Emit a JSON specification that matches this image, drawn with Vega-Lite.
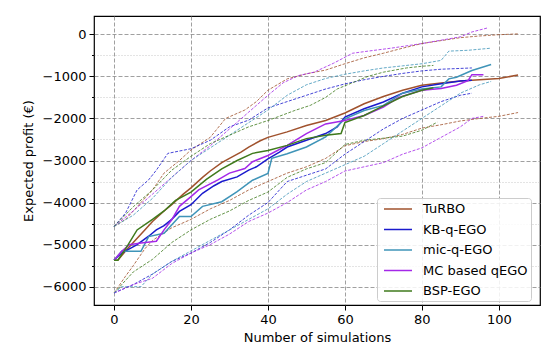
{
"$schema": "https://vega.github.io/schema/vega-lite/v6.json",
"width": 446, "height": 289,
"autosize": {"type": "none"},
"padding": {"left": 94, "top": 16, "right": 10, "bottom": 52},
"background": "white",
"config": {"view": {"stroke": "#000", "strokeWidth": 1.2}, "font": "DejaVu Sans"},
"datasets": {"d": [
{"s":"TuRBO","k":"m","x":0,"y":-5370},{"s":"TuRBO","k":"m","x":1,"y":-5370},{"s":"TuRBO","k":"m","x":3,"y":-5150},{"s":"TuRBO","k":"m","x":5,"y":-4950},{"s":"TuRBO","k":"m","x":8,"y":-4650},{"s":"TuRBO","k":"m","x":10,"y":-4450},{"s":"TuRBO","k":"m","x":13,"y":-4200},{"s":"TuRBO","k":"m","x":15,"y":-4050},{"s":"TuRBO","k":"m","x":18,"y":-3800},{"s":"TuRBO","k":"m","x":20,"y":-3650},{"s":"TuRBO","k":"m","x":23,"y":-3400},{"s":"TuRBO","k":"m","x":25,"y":-3250},{"s":"TuRBO","k":"m","x":28,"y":-3050},{"s":"TuRBO","k":"m","x":30,"y":-2950},{"s":"TuRBO","k":"m","x":33,"y":-2800},{"s":"TuRBO","k":"m","x":35,"y":-2680},{"s":"TuRBO","k":"m","x":38,"y":-2530},{"s":"TuRBO","k":"m","x":40,"y":-2450},{"s":"TuRBO","k":"m","x":45,"y":-2320},{"s":"TuRBO","k":"m","x":50,"y":-2170},{"s":"TuRBO","k":"m","x":55,"y":-2050},{"s":"TuRBO","k":"m","x":60,"y":-1870},{"s":"TuRBO","k":"m","x":65,"y":-1650},{"s":"TuRBO","k":"m","x":70,"y":-1480},{"s":"TuRBO","k":"m","x":75,"y":-1330},{"s":"TuRBO","k":"m","x":80,"y":-1210},{"s":"TuRBO","k":"m","x":85,"y":-1160},{"s":"TuRBO","k":"m","x":90,"y":-1110},{"s":"TuRBO","k":"m","x":95,"y":-1080},{"s":"TuRBO","k":"m","x":100,"y":-1050},{"s":"TuRBO","k":"m","x":105,"y":-970},
{"s":"KB-q-EGO","k":"m","x":0,"y":-5370},{"s":"KB-q-EGO","k":"m","x":2,"y":-5200},{"s":"KB-q-EGO","k":"m","x":4,"y":-5100},{"s":"KB-q-EGO","k":"m","x":6,"y":-5000},{"s":"KB-q-EGO","k":"m","x":9,"y":-4800},{"s":"KB-q-EGO","k":"m","x":11,"y":-4650},{"s":"KB-q-EGO","k":"m","x":13,"y":-4550},{"s":"KB-q-EGO","k":"m","x":15,"y":-4400},{"s":"KB-q-EGO","k":"m","x":17,"y":-4210},{"s":"KB-q-EGO","k":"m","x":20,"y":-4050},{"s":"KB-q-EGO","k":"m","x":23,"y":-3780},{"s":"KB-q-EGO","k":"m","x":26,"y":-3600},{"s":"KB-q-EGO","k":"m","x":28,"y":-3500},{"s":"KB-q-EGO","k":"m","x":32,"y":-3390},{"s":"KB-q-EGO","k":"m","x":35,"y":-3230},{"s":"KB-q-EGO","k":"m","x":37,"y":-3150},{"s":"KB-q-EGO","k":"m","x":40,"y":-2960},{"s":"KB-q-EGO","k":"m","x":43,"y":-2800},{"s":"KB-q-EGO","k":"m","x":45,"y":-2680},{"s":"KB-q-EGO","k":"m","x":50,"y":-2520},{"s":"KB-q-EGO","k":"m","x":55,"y":-2360},{"s":"KB-q-EGO","k":"m","x":58,"y":-2200},{"s":"KB-q-EGO","k":"m","x":60,"y":-1970},{"s":"KB-q-EGO","k":"m","x":65,"y":-1770},{"s":"KB-q-EGO","k":"m","x":70,"y":-1610},{"s":"KB-q-EGO","k":"m","x":75,"y":-1400},{"s":"KB-q-EGO","k":"m","x":80,"y":-1250},{"s":"KB-q-EGO","k":"m","x":85,"y":-1175},{"s":"KB-q-EGO","k":"m","x":90,"y":-1110},{"s":"KB-q-EGO","k":"m","x":93,"y":-1090},
{"s":"mic-q-EGO","k":"m","x":0,"y":-5370},{"s":"mic-q-EGO","k":"m","x":2,"y":-5160},{"s":"mic-q-EGO","k":"m","x":7,"y":-5160},{"s":"mic-q-EGO","k":"m","x":9,"y":-4810},{"s":"mic-q-EGO","k":"m","x":13,"y":-4730},{"s":"mic-q-EGO","k":"m","x":17,"y":-4330},{"s":"mic-q-EGO","k":"m","x":20,"y":-4330},{"s":"mic-q-EGO","k":"m","x":23,"y":-4090},{"s":"mic-q-EGO","k":"m","x":28,"y":-3980},{"s":"mic-q-EGO","k":"m","x":32,"y":-3740},{"s":"mic-q-EGO","k":"m","x":36,"y":-3470},{"s":"mic-q-EGO","k":"m","x":40,"y":-3310},{"s":"mic-q-EGO","k":"m","x":41,"y":-2950},{"s":"mic-q-EGO","k":"m","x":45,"y":-2840},{"s":"mic-q-EGO","k":"m","x":50,"y":-2680},{"s":"mic-q-EGO","k":"m","x":55,"y":-2440},{"s":"mic-q-EGO","k":"m","x":60,"y":-2010},{"s":"mic-q-EGO","k":"m","x":65,"y":-1810},{"s":"mic-q-EGO","k":"m","x":70,"y":-1690},{"s":"mic-q-EGO","k":"m","x":75,"y":-1400},{"s":"mic-q-EGO","k":"m","x":80,"y":-1300},{"s":"mic-q-EGO","k":"m","x":85,"y":-1250},{"s":"mic-q-EGO","k":"m","x":87,"y":-1060},{"s":"mic-q-EGO","k":"m","x":89,"y":-1020},{"s":"mic-q-EGO","k":"m","x":93,"y":-860},{"s":"mic-q-EGO","k":"m","x":98,"y":-720},
{"s":"MC based qEGO","k":"m","x":0,"y":-5370},{"s":"MC based qEGO","k":"m","x":2,"y":-5160},{"s":"MC based qEGO","k":"m","x":4,"y":-5000},{"s":"MC based qEGO","k":"m","x":7,"y":-4960},{"s":"MC based qEGO","k":"m","x":11,"y":-4920},{"s":"MC based qEGO","k":"m","x":13,"y":-4650},{"s":"MC based qEGO","k":"m","x":15,"y":-4410},{"s":"MC based qEGO","k":"m","x":17,"y":-4090},{"s":"MC based qEGO","k":"m","x":20,"y":-3860},{"s":"MC based qEGO","k":"m","x":22,"y":-3700},{"s":"MC based qEGO","k":"m","x":27,"y":-3460},{"s":"MC based qEGO","k":"m","x":30,"y":-3300},{"s":"MC based qEGO","k":"m","x":34,"y":-3190},{"s":"MC based qEGO","k":"m","x":36,"y":-3030},{"s":"MC based qEGO","k":"m","x":40,"y":-2880},{"s":"MC based qEGO","k":"m","x":45,"y":-2640},{"s":"MC based qEGO","k":"m","x":50,"y":-2360},{"s":"MC based qEGO","k":"m","x":55,"y":-2130},{"s":"MC based qEGO","k":"m","x":60,"y":-2050},{"s":"MC based qEGO","k":"m","x":65,"y":-1930},{"s":"MC based qEGO","k":"m","x":70,"y":-1730},{"s":"MC based qEGO","k":"m","x":74,"y":-1500},{"s":"MC based qEGO","k":"m","x":80,"y":-1330},{"s":"MC based qEGO","k":"m","x":85,"y":-1290},{"s":"MC based qEGO","k":"m","x":89,"y":-1210},{"s":"MC based qEGO","k":"m","x":92,"y":-1100},{"s":"MC based qEGO","k":"m","x":93,"y":-960},{"s":"MC based qEGO","k":"m","x":96,"y":-960},
{"s":"BSP-EGO","k":"m","x":0,"y":-5370},{"s":"BSP-EGO","k":"m","x":1,"y":-5370},{"s":"BSP-EGO","k":"m","x":3,"y":-5100},{"s":"BSP-EGO","k":"m","x":6,"y":-4650},{"s":"BSP-EGO","k":"m","x":10,"y":-4400},{"s":"BSP-EGO","k":"m","x":13,"y":-4200},{"s":"BSP-EGO","k":"m","x":16,"y":-3950},{"s":"BSP-EGO","k":"m","x":20,"y":-3750},{"s":"BSP-EGO","k":"m","x":24,"y":-3450},{"s":"BSP-EGO","k":"m","x":28,"y":-3200},{"s":"BSP-EGO","k":"m","x":32,"y":-3000},{"s":"BSP-EGO","k":"m","x":36,"y":-2830},{"s":"BSP-EGO","k":"m","x":40,"y":-2760},{"s":"BSP-EGO","k":"m","x":45,"y":-2640},{"s":"BSP-EGO","k":"m","x":50,"y":-2480},{"s":"BSP-EGO","k":"m","x":55,"y":-2400},{"s":"BSP-EGO","k":"m","x":59,"y":-2360},{"s":"BSP-EGO","k":"m","x":60,"y":-2100},{"s":"BSP-EGO","k":"m","x":65,"y":-1930},{"s":"BSP-EGO","k":"m","x":70,"y":-1700},{"s":"BSP-EGO","k":"m","x":75,"y":-1480},{"s":"BSP-EGO","k":"m","x":80,"y":-1330},{"s":"BSP-EGO","k":"m","x":83,"y":-1270},
{"s":"TuRBO","k":"u","x":0,"y":-4570},{"s":"TuRBO","k":"u","x":3,"y":-4400},{"s":"TuRBO","k":"u","x":6,"y":-4100},{"s":"TuRBO","k":"u","x":10,"y":-3700},{"s":"TuRBO","k":"u","x":13,"y":-3300},{"s":"TuRBO","k":"u","x":17,"y":-3000},{"s":"TuRBO","k":"u","x":20,"y":-2750},{"s":"TuRBO","k":"u","x":25,"y":-2450},{"s":"TuRBO","k":"u","x":29,"y":-2000},{"s":"TuRBO","k":"u","x":34,"y":-1800},{"s":"TuRBO","k":"u","x":37,"y":-1600},{"s":"TuRBO","k":"u","x":40,"y":-1330},{"s":"TuRBO","k":"u","x":45,"y":-1060},{"s":"TuRBO","k":"u","x":50,"y":-940},{"s":"TuRBO","k":"u","x":55,"y":-850},{"s":"TuRBO","k":"u","x":60,"y":-700},{"s":"TuRBO","k":"u","x":65,"y":-560},{"s":"TuRBO","k":"u","x":70,"y":-450},{"s":"TuRBO","k":"u","x":75,"y":-330},{"s":"TuRBO","k":"u","x":80,"y":-220},{"s":"TuRBO","k":"u","x":85,"y":-150},{"s":"TuRBO","k":"u","x":90,"y":-80},{"s":"TuRBO","k":"u","x":95,"y":-40},{"s":"TuRBO","k":"u","x":100,"y":-10},{"s":"TuRBO","k":"u","x":105,"y":10},
{"s":"KB-q-EGO","k":"u","x":0,"y":-4570},{"s":"KB-q-EGO","k":"u","x":3,"y":-4250},{"s":"KB-q-EGO","k":"u","x":6,"y":-3700},{"s":"KB-q-EGO","k":"u","x":9,"y":-3460},{"s":"KB-q-EGO","k":"u","x":11,"y":-3230},{"s":"KB-q-EGO","k":"u","x":14,"y":-2830},{"s":"KB-q-EGO","k":"u","x":20,"y":-2720},{"s":"KB-q-EGO","k":"u","x":25,"y":-2520},{"s":"KB-q-EGO","k":"u","x":30,"y":-2200},{"s":"KB-q-EGO","k":"u","x":35,"y":-2040},{"s":"KB-q-EGO","k":"u","x":40,"y":-1750},{"s":"KB-q-EGO","k":"u","x":45,"y":-1600},{"s":"KB-q-EGO","k":"u","x":50,"y":-1450},{"s":"KB-q-EGO","k":"u","x":55,"y":-1300},{"s":"KB-q-EGO","k":"u","x":60,"y":-1180},{"s":"KB-q-EGO","k":"u","x":65,"y":-1080},{"s":"KB-q-EGO","k":"u","x":70,"y":-1000},{"s":"KB-q-EGO","k":"u","x":75,"y":-930},{"s":"KB-q-EGO","k":"u","x":80,"y":-870},{"s":"KB-q-EGO","k":"u","x":85,"y":-830},{"s":"KB-q-EGO","k":"u","x":93,"y":-800},
{"s":"MC based qEGO","k":"u","x":0,"y":-4570},{"s":"MC based qEGO","k":"u","x":5,"y":-4200},{"s":"MC based qEGO","k":"u","x":10,"y":-3800},{"s":"MC based qEGO","k":"u","x":15,"y":-3400},{"s":"MC based qEGO","k":"u","x":20,"y":-3000},{"s":"MC based qEGO","k":"u","x":25,"y":-2650},{"s":"MC based qEGO","k":"u","x":30,"y":-2250},{"s":"MC based qEGO","k":"u","x":35,"y":-1850},{"s":"MC based qEGO","k":"u","x":40,"y":-1450},{"s":"MC based qEGO","k":"u","x":44,"y":-1150},{"s":"MC based qEGO","k":"u","x":48,"y":-980},{"s":"MC based qEGO","k":"u","x":52,"y":-900},{"s":"MC based qEGO","k":"u","x":57,"y":-690},{"s":"MC based qEGO","k":"u","x":62,"y":-450},{"s":"MC based qEGO","k":"u","x":66,"y":-400},{"s":"MC based qEGO","k":"u","x":72,"y":-330},{"s":"MC based qEGO","k":"u","x":80,"y":-220},{"s":"MC based qEGO","k":"u","x":85,"y":-140},{"s":"MC based qEGO","k":"u","x":90,"y":-60},{"s":"MC based qEGO","k":"u","x":93,"y":55},{"s":"MC based qEGO","k":"u","x":97,"y":150},
{"s":"mic-q-EGO","k":"u","x":0,"y":-4570},{"s":"mic-q-EGO","k":"u","x":5,"y":-4300},{"s":"mic-q-EGO","k":"u","x":10,"y":-3900},{"s":"mic-q-EGO","k":"u","x":15,"y":-3400},{"s":"mic-q-EGO","k":"u","x":20,"y":-3000},{"s":"mic-q-EGO","k":"u","x":25,"y":-2700},{"s":"mic-q-EGO","k":"u","x":30,"y":-2400},{"s":"mic-q-EGO","k":"u","x":35,"y":-2100},{"s":"mic-q-EGO","k":"u","x":40,"y":-1800},{"s":"mic-q-EGO","k":"u","x":45,"y":-1450},{"s":"mic-q-EGO","k":"u","x":50,"y":-1200},{"s":"mic-q-EGO","k":"u","x":55,"y":-1050},{"s":"mic-q-EGO","k":"u","x":60,"y":-950},{"s":"mic-q-EGO","k":"u","x":65,"y":-870},{"s":"mic-q-EGO","k":"u","x":70,"y":-800},{"s":"mic-q-EGO","k":"u","x":75,"y":-750},{"s":"mic-q-EGO","k":"u","x":80,"y":-700},{"s":"mic-q-EGO","k":"u","x":85,"y":-620},{"s":"mic-q-EGO","k":"u","x":87,"y":-400},{"s":"mic-q-EGO","k":"u","x":92,"y":-380},{"s":"mic-q-EGO","k":"u","x":98,"y":-330},
{"s":"BSP-EGO","k":"u","x":0,"y":-4570},{"s":"BSP-EGO","k":"u","x":5,"y":-4100},{"s":"BSP-EGO","k":"u","x":10,"y":-3700},{"s":"BSP-EGO","k":"u","x":15,"y":-3230},{"s":"BSP-EGO","k":"u","x":20,"y":-2900},{"s":"BSP-EGO","k":"u","x":25,"y":-2600},{"s":"BSP-EGO","k":"u","x":30,"y":-2400},{"s":"BSP-EGO","k":"u","x":35,"y":-2200},{"s":"BSP-EGO","k":"u","x":40,"y":-2050},{"s":"BSP-EGO","k":"u","x":47,"y":-1810},{"s":"BSP-EGO","k":"u","x":51,"y":-1690},{"s":"BSP-EGO","k":"u","x":55,"y":-1500},{"s":"BSP-EGO","k":"u","x":58,"y":-1300},{"s":"BSP-EGO","k":"u","x":62,"y":-1150},{"s":"BSP-EGO","k":"u","x":66,"y":-1000},{"s":"BSP-EGO","k":"u","x":70,"y":-900},{"s":"BSP-EGO","k":"u","x":76,"y":-800},{"s":"BSP-EGO","k":"u","x":80,"y":-760},{"s":"BSP-EGO","k":"u","x":83,"y":-740},
{"s":"TuRBO","k":"l","x":0,"y":-6150},{"s":"TuRBO","k":"l","x":3,"y":-5750},{"s":"TuRBO","k":"l","x":5,"y":-5500},{"s":"TuRBO","k":"l","x":8,"y":-5100},{"s":"TuRBO","k":"l","x":10,"y":-4900},{"s":"TuRBO","k":"l","x":15,"y":-4600},{"s":"TuRBO","k":"l","x":20,"y":-4400},{"s":"TuRBO","k":"l","x":25,"y":-4150},{"s":"TuRBO","k":"l","x":30,"y":-3950},{"s":"TuRBO","k":"l","x":35,"y":-3700},{"s":"TuRBO","k":"l","x":40,"y":-3500},{"s":"TuRBO","k":"l","x":45,"y":-3300},{"s":"TuRBO","k":"l","x":50,"y":-3150},{"s":"TuRBO","k":"l","x":55,"y":-2950},{"s":"TuRBO","k":"l","x":60,"y":-2650},{"s":"TuRBO","k":"l","x":65,"y":-2550},{"s":"TuRBO","k":"l","x":70,"y":-2480},{"s":"TuRBO","k":"l","x":75,"y":-2380},{"s":"TuRBO","k":"l","x":80,"y":-2230},{"s":"TuRBO","k":"l","x":85,"y":-2150},{"s":"TuRBO","k":"l","x":90,"y":-2060},{"s":"TuRBO","k":"l","x":95,"y":-2000},{"s":"TuRBO","k":"l","x":100,"y":-1950},{"s":"TuRBO","k":"l","x":105,"y":-1860},
{"s":"BSP-EGO","k":"l","x":0,"y":-6150},{"s":"BSP-EGO","k":"l","x":3,"y":-5850},{"s":"BSP-EGO","k":"l","x":5,"y":-5650},{"s":"BSP-EGO","k":"l","x":10,"y":-5350},{"s":"BSP-EGO","k":"l","x":15,"y":-4950},{"s":"BSP-EGO","k":"l","x":20,"y":-4650},{"s":"BSP-EGO","k":"l","x":25,"y":-4400},{"s":"BSP-EGO","k":"l","x":30,"y":-4200},{"s":"BSP-EGO","k":"l","x":35,"y":-3950},{"s":"BSP-EGO","k":"l","x":40,"y":-3750},{"s":"BSP-EGO","k":"l","x":45,"y":-3400},{"s":"BSP-EGO","k":"l","x":50,"y":-3200},{"s":"BSP-EGO","k":"l","x":55,"y":-3050},{"s":"BSP-EGO","k":"l","x":60,"y":-2620},{"s":"BSP-EGO","k":"l","x":65,"y":-2520},{"s":"BSP-EGO","k":"l","x":70,"y":-2470},{"s":"BSP-EGO","k":"l","x":75,"y":-2420},{"s":"BSP-EGO","k":"l","x":80,"y":-2280},{"s":"BSP-EGO","k":"l","x":84,"y":-2090},
{"s":"KB-q-EGO","k":"l","x":0,"y":-6150},{"s":"KB-q-EGO","k":"l","x":5,"y":-5950},{"s":"KB-q-EGO","k":"l","x":10,"y":-5700},{"s":"KB-q-EGO","k":"l","x":15,"y":-5400},{"s":"KB-q-EGO","k":"l","x":20,"y":-5200},{"s":"KB-q-EGO","k":"l","x":25,"y":-4950},{"s":"KB-q-EGO","k":"l","x":30,"y":-4650},{"s":"KB-q-EGO","k":"l","x":35,"y":-4300},{"s":"KB-q-EGO","k":"l","x":40,"y":-4000},{"s":"KB-q-EGO","k":"l","x":45,"y":-3500},{"s":"KB-q-EGO","k":"l","x":50,"y":-3350},{"s":"KB-q-EGO","k":"l","x":55,"y":-3200},{"s":"KB-q-EGO","k":"l","x":60,"y":-2850},{"s":"KB-q-EGO","k":"l","x":65,"y":-2550},{"s":"KB-q-EGO","k":"l","x":70,"y":-2250},{"s":"KB-q-EGO","k":"l","x":75,"y":-2000},{"s":"KB-q-EGO","k":"l","x":80,"y":-1800},{"s":"KB-q-EGO","k":"l","x":85,"y":-1600},{"s":"KB-q-EGO","k":"l","x":90,"y":-1450},{"s":"KB-q-EGO","k":"l","x":93,"y":-1400},
{"s":"MC based qEGO","k":"l","x":0,"y":-6150},{"s":"MC based qEGO","k":"l","x":5,"y":-5950},{"s":"MC based qEGO","k":"l","x":10,"y":-5800},{"s":"MC based qEGO","k":"l","x":15,"y":-5450},{"s":"MC based qEGO","k":"l","x":20,"y":-5200},{"s":"MC based qEGO","k":"l","x":25,"y":-5000},{"s":"MC based qEGO","k":"l","x":30,"y":-4750},{"s":"MC based qEGO","k":"l","x":35,"y":-4450},{"s":"MC based qEGO","k":"l","x":40,"y":-4250},{"s":"MC based qEGO","k":"l","x":45,"y":-4000},{"s":"MC based qEGO","k":"l","x":50,"y":-3700},{"s":"MC based qEGO","k":"l","x":55,"y":-3500},{"s":"MC based qEGO","k":"l","x":60,"y":-3250},{"s":"MC based qEGO","k":"l","x":65,"y":-3150},{"s":"MC based qEGO","k":"l","x":70,"y":-3050},{"s":"MC based qEGO","k":"l","x":75,"y":-2850},{"s":"MC based qEGO","k":"l","x":80,"y":-2700},{"s":"MC based qEGO","k":"l","x":85,"y":-2450},{"s":"MC based qEGO","k":"l","x":90,"y":-2200},{"s":"MC based qEGO","k":"l","x":93,"y":-2000},{"s":"MC based qEGO","k":"l","x":96,"y":-1950},
{"s":"mic-q-EGO","k":"l","x":0,"y":-6150},{"s":"mic-q-EGO","k":"l","x":2,"y":-6000},{"s":"mic-q-EGO","k":"l","x":7,"y":-6000},{"s":"mic-q-EGO","k":"l","x":10,"y":-5700},{"s":"mic-q-EGO","k":"l","x":15,"y":-5400},{"s":"mic-q-EGO","k":"l","x":20,"y":-5150},{"s":"mic-q-EGO","k":"l","x":25,"y":-4900},{"s":"mic-q-EGO","k":"l","x":30,"y":-4650},{"s":"mic-q-EGO","k":"l","x":35,"y":-4400},{"s":"mic-q-EGO","k":"l","x":40,"y":-4150},{"s":"mic-q-EGO","k":"l","x":45,"y":-3800},{"s":"mic-q-EGO","k":"l","x":50,"y":-3500},{"s":"mic-q-EGO","k":"l","x":55,"y":-3300},{"s":"mic-q-EGO","k":"l","x":60,"y":-3100},{"s":"mic-q-EGO","k":"l","x":65,"y":-2900},{"s":"mic-q-EGO","k":"l","x":70,"y":-2600},{"s":"mic-q-EGO","k":"l","x":75,"y":-2300},{"s":"mic-q-EGO","k":"l","x":80,"y":-2000},{"s":"mic-q-EGO","k":"l","x":85,"y":-1700},{"s":"mic-q-EGO","k":"l","x":90,"y":-1400},{"s":"mic-q-EGO","k":"l","x":95,"y":-1200},{"s":"mic-q-EGO","k":"l","x":98,"y":-1120}
]},
"data": {"name": "d"},
"encoding": {
  "x": {"field": "x", "type": "quantitative", "scale": {"domain": [-5.2, 110.7], "nice": false, "zero": false},
    "axis": {"values": [0, 20, 40, 60, 80, 100], "format": "d", "title": "Number of simulations",
      "grid": true, "gridDash": [4, 2], "gridColor": "#888", "gridWidth": 0.8,
      "domain": false, "tickSize": 5, "tickColor": "#000", "tickWidth": 1,
      "labelFontSize": 13, "labelColor": "#000", "labelPadding": 3,
      "titleFontSize": 13, "titleFontWeight": "normal", "titleColor": "#000", "titlePadding": 5}},
  "y": {"field": "y", "type": "quantitative", "scale": {"domain": [-6435, 435], "nice": false, "zero": false},
    "axis": {"values": [-6000, -5500, -5000, -4500, -4000, -3500, -3000, -2500, -2000, -1500, -1000, -500, 0],
      "format": "d", "labelExpr": "datum.value % 1000 === 0 ? datum.label : ''", "title": "Expected profit (€)",
      "grid": true,
      "gridDash": {"condition": {"test": "datum.value % 1000 === 0", "value": [4, 2]}, "value": [1, 2]},
      "gridColor": {"condition": {"test": "datum.value % 1000 === 0", "value": "#888"}, "value": "#bbb"},
      "gridWidth": 0.8,
      "domain": false,
      "tickSize": {"condition": {"test": "datum.value % 1000 === 0", "value": 5}, "value": 2.5},
      "tickColor": "#000", "tickWidth": 1,
      "labelFontSize": 13, "labelColor": "#000", "labelPadding": 3,
      "titleFontSize": 13, "titleFontWeight": "normal", "titleColor": "#000", "titlePadding": 7}}
},
"resolve": {"legend": {"color": "independent"}},
"layer": [
  {"transform": [{"filter": "datum.k !== 'm'"}],
   "mark": {"type": "line", "strokeDash": [3, 1.5], "strokeWidth": 0.9, "opacity": 0.9},
   "encoding": {"detail": {"field": "k"},
     "color": {"field": "s", "type": "nominal", "legend": null,
       "scale": {"domain": ["TuRBO", "KB-q-EGO", "mic-q-EGO", "MC based qEGO", "BSP-EGO"], "range": ["#a0522d", "#1a1acd", "#3f94b8", "#a428e8", "#3f7a1c"]}}}},
  {"transform": [{"filter": "datum.k === 'm'"}],
   "mark": {"type": "line", "strokeWidth": 1.5},
   "encoding": {
     "color": {"field": "s", "type": "nominal",
       "scale": {"domain": ["TuRBO", "KB-q-EGO", "mic-q-EGO", "MC based qEGO", "BSP-EGO"], "range": ["#a0522d", "#1a1acd", "#3f94b8", "#a428e8", "#3f7a1c"]},
       "legend": {"orient": "none", "legendX": 283, "legendY": 182, "title": null,
         "symbolType": "M-2,0H2", "symbolSize": 196, "symbolStrokeWidth": 1.5,
         "labelFontSize": 13, "labelColor": "#000", "labelOffset": 17, "symbolOffset": 10,
         "padding": 3, "rowPadding": 5.5,
         "fillColor": "rgba(255,255,255,0.85)", "strokeColor": "#ccc", "cornerRadius": 3}}}}
]
}
